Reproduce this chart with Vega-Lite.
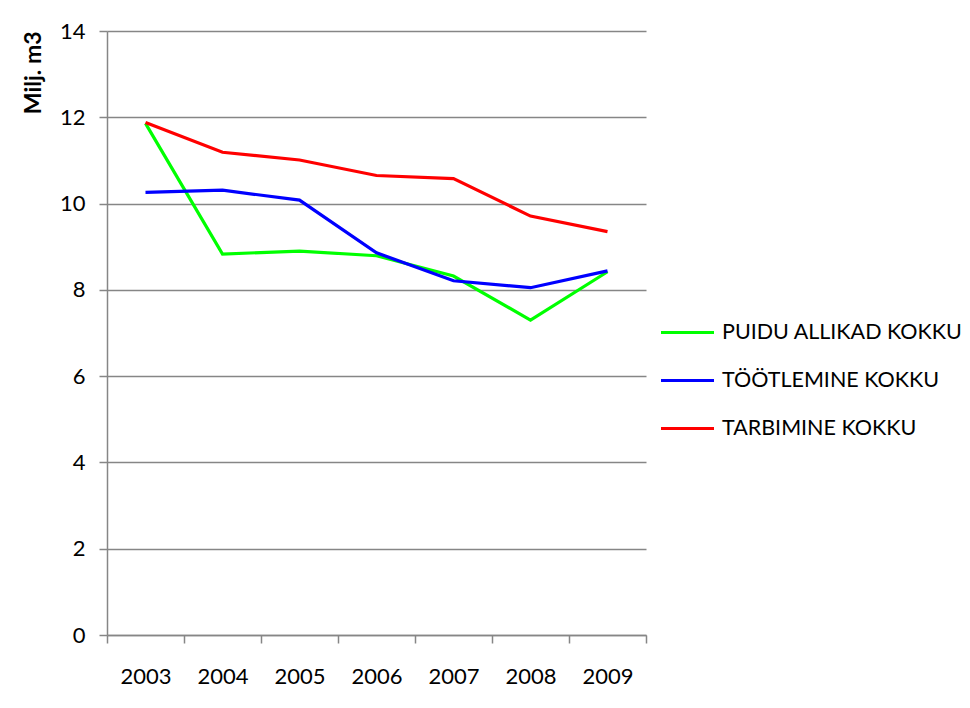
{
  "$schema": "https://vega.github.io/schema/vega-lite/v6.json",
  "autosize": {"type": "none"},
  "width": 539,
  "height": 604,
  "padding": {"left": 107, "top": 31, "right": 324, "bottom": 73},
  "background": "white",
  "config": {
    "font": "Lato",
    "view": {"stroke": null},
    "axis": {"labelFont": "Lato", "titleFont": "Lato", "labelColor": "#000000", "titleColor": "#000000"}
  },
  "data": {
    "values": [
      {"year": "2003", "series": "PUIDU ALLIKAD KOKKU", "value": 11.86},
      {"year": "2004", "series": "PUIDU ALLIKAD KOKKU", "value": 8.83},
      {"year": "2005", "series": "PUIDU ALLIKAD KOKKU", "value": 8.9},
      {"year": "2006", "series": "PUIDU ALLIKAD KOKKU", "value": 8.79},
      {"year": "2007", "series": "PUIDU ALLIKAD KOKKU", "value": 8.32},
      {"year": "2008", "series": "PUIDU ALLIKAD KOKKU", "value": 7.3},
      {"year": "2009", "series": "PUIDU ALLIKAD KOKKU", "value": 8.42},
      {"year": "2003", "series": "TÖÖTLEMINE KOKKU", "value": 10.26},
      {"year": "2004", "series": "TÖÖTLEMINE KOKKU", "value": 10.31},
      {"year": "2005", "series": "TÖÖTLEMINE KOKKU", "value": 10.08},
      {"year": "2006", "series": "TÖÖTLEMINE KOKKU", "value": 8.86},
      {"year": "2007", "series": "TÖÖTLEMINE KOKKU", "value": 8.21},
      {"year": "2008", "series": "TÖÖTLEMINE KOKKU", "value": 8.05},
      {"year": "2009", "series": "TÖÖTLEMINE KOKKU", "value": 8.44},
      {"year": "2003", "series": "TARBIMINE KOKKU", "value": 11.88},
      {"year": "2004", "series": "TARBIMINE KOKKU", "value": 11.19},
      {"year": "2005", "series": "TARBIMINE KOKKU", "value": 11.01},
      {"year": "2006", "series": "TARBIMINE KOKKU", "value": 10.65},
      {"year": "2007", "series": "TARBIMINE KOKKU", "value": 10.58},
      {"year": "2008", "series": "TARBIMINE KOKKU", "value": 9.71},
      {"year": "2009", "series": "TARBIMINE KOKKU", "value": 9.35}
    ]
  },
  "mark": {"type": "line", "strokeWidth": 3.2, "strokeJoin": "miter"},
  "encoding": {
    "x": {
      "field": "year",
      "type": "ordinal",
      "scale": {"type": "band", "paddingInner": 0, "paddingOuter": 0},
      "axis": {
        "title": null,
        "labelAngle": 0,
        "labelFontSize": 22,
        "labelPadding": 23,
        "tickBand": "extent",
        "tickSize": 8,
        "tickColor": "#868686",
        "tickWidth": 1.5,
        "domainColor": "#868686",
        "domainWidth": 1.5,
        "grid": false
      }
    },
    "y": {
      "field": "value",
      "type": "quantitative",
      "scale": {"domain": [0, 14], "nice": false},
      "axis": {
        "title": "Milj. m3",
        "titleFontSize": 23,
        "titleFontWeight": "bold",
        "titleAnchor": "end",
        "titlePadding": 14,
        "values": [0, 2, 4, 6, 8, 10, 12, 14],
        "labelFontSize": 22,
        "labelPadding": 14,
        "tickSize": 8,
        "tickColor": "#868686",
        "tickWidth": 1.5,
        "domainColor": "#868686",
        "domainWidth": 1.5,
        "gridColor": "#868686",
        "gridWidth": 1.5
      }
    },
    "color": {
      "field": "series",
      "type": "nominal",
      "sort": ["PUIDU ALLIKAD KOKKU", "TÖÖTLEMINE KOKKU", "TARBIMINE KOKKU"],
      "scale": {
        "domain": ["PUIDU ALLIKAD KOKKU", "TÖÖTLEMINE KOKKU", "TARBIMINE KOKKU"],
        "range": ["#00FF00", "#0000FF", "#FF0000"]
      },
      "legend": {
        "title": null,
        "orient": "none",
        "legendX": 552,
        "legendY": 273,
        "symbolType": "stroke",
        "symbolSize": 2809,
        "symbolStrokeWidth": 3.2,
        "labelFontSize": 21.5,
        "labelColor": "#000000",
        "labelOffset": 6,
        "rowPadding": 9,
        "labelLimit": 400
      }
    }
  }
}
